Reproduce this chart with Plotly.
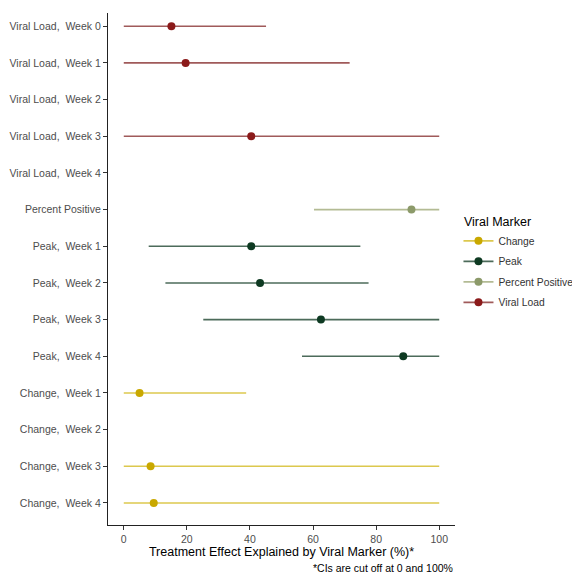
import plotly.graph_objects as go

categories = [
    "Viral Load,  Week 0", "Viral Load,  Week 1", "Viral Load,  Week 2",
    "Viral Load,  Week 3", "Viral Load,  Week 4", "Percent Positive",
    "Peak,  Week 1", "Peak,  Week 2", "Peak,  Week 3", "Peak,  Week 4",
    "Change,  Week 1", "Change,  Week 2", "Change,  Week 3", "Change,  Week 4",
]
marker_group = [
    "Viral Load", "Viral Load", "Viral Load", "Viral Load", "Viral Load",
    "Percent Positive", "Peak", "Peak", "Peak", "Peak",
    "Change", "Change", "Change", "Change",
]
estimate = [15.1, 19.6, None, 40.4, None, 91.2, 40.4, 43.2, 62.5, 88.6, 5.0, None, 8.5, 9.5]
ci_low = [0, 0, None, 0, None, 60.3, 7.9, 13.2, 25.2, 56.5, 0, None, 0, 0]
ci_high = [45.1, 71.6, None, 100, None, 100, 75.0, 77.6, 100, 100, 38.8, None, 100, 100]

legend_order = ["Change", "Peak", "Percent Positive", "Viral Load"]
point_colors = {"Change": "#C9A800", "Peak": "#0E3A22", "Percent Positive": "#8C9A6A", "Viral Load": "#8B1A1A"}
line_colors = {"Change": "#DCC84E", "Peak": "#4C6B5A", "Percent Positive": "#B3BB94", "Viral Load": "#A05A5A"}

disp = [c.replace("  ", " \u00a0") for c in categories]

fig = go.Figure()
for g in legend_order:
    lx, ly, px, py = [], [], [], []
    for c, grp, e, lo, hi in zip(disp, marker_group, estimate, ci_low, ci_high):
        if grp != g or e is None:
            continue
        lx += [lo, hi, None]
        ly += [c, c, None]
        px += [e, None]
        py += [c, None]
    fig.add_trace(go.Scatter(x=lx, y=ly, mode="lines", line=dict(color=line_colors[g], width=1.6),
                             showlegend=False, hoverinfo="skip", legendgroup=g))
    fig.add_trace(go.Scatter(x=px, y=py, mode="lines+markers", name=g, connectgaps=False,
                             legendgroup=g,
                             line=dict(color=line_colors[g], width=1.6),
                             marker=dict(color=point_colors[g], size=8)))

fig.update_layout(
    width=572, height=566,
    margin=dict(l=100, r=125, t=5, b=49, autoexpand=False),
    plot_bgcolor="white", paper_bgcolor="white",
    font=dict(family="Liberation Sans, Arial, sans-serif", color="#4D4D4D", size=10.5),
    showlegend=True,
    legend=dict(title=dict(text="\u00a0Viral Marker", font=dict(size=12.5, color="black")),
                x=1.01, xanchor="left", y=0.615, yanchor="top", itemwidth=30,
                font=dict(size=10.3, color="#333333"), tracegroupgap=1.5),
    xaxis=dict(range=[-5, 105], tickvals=[0, 20, 40, 60, 80, 100], showgrid=False, zeroline=False,
               showline=True, linecolor="#222222", linewidth=1.2, ticks="outside", ticklen=4,
               tickcolor="#333333", tickfont=dict(size=10.5, color="#4D4D4D"),
               title=dict(text="Treatment Effect Explained by Viral Marker (%)*",
                          font=dict(size=12.5, color="black"), standoff=1)),
    yaxis=dict(type="category", categoryorder="array", categoryarray=disp,
               range=[len(disp) - 0.4, -0.36], autorange=False, showgrid=False, zeroline=False,
               showline=True, linecolor="#222222", linewidth=1.2, ticks="outside", ticklen=4,
               tickcolor="#333333", tickfont=dict(size=10.5, color="#4D4D4D")),
    annotations=[dict(text="*CIs are cut off at 0 and 100%", xref="paper", yref="paper",
                      x=1.0, y=0, xanchor="right", yanchor="top", yshift=-35, showarrow=False,
                      font=dict(size=10.5, color="black"))],
)

fig.write_html("out.html")
